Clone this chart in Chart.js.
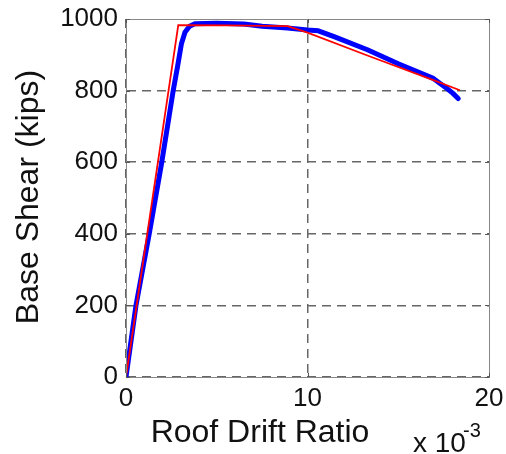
<!DOCTYPE html>
<html>
<head>
<meta charset="utf-8">
<script src="https://cdn.jsdelivr.net/npm/chart.js@4.4.1/dist/chart.umd.min.js"></script>
<style>
html,body{margin:0;padding:0;background:#fff;}
canvas{display:block;}
</style>
</head>
<body>
<canvas id="c" width="506" height="454"></canvas>
<script>
// Roof drift ratio (x 10^-3) and base shear (kips)
const redDrift  = [0, 2.88, 5.5, 8.9, 10.0, 13.3, 16.9, 18.4];
const redShear  = [0, 983, 982, 980, 962, 898, 830, 801];
const blueDrift = [0, 0.55, 1.28, 1.97, 2.6, 2.85, 3.05, 3.25, 3.5, 3.8, 5.0, 6.5, 7.5, 8.9, 10.0, 10.6, 11.5, 13.3, 15.0, 16.9, 17.7, 18.0, 18.3];
const blueShear = [0, 200, 400, 600, 800, 870, 930, 963, 980, 987, 988, 986, 980, 975, 969, 967, 950, 914, 875, 835, 805, 793, 778];
const xTicks = [0, 10, 20];
const yTicks = [0, 200, 400, 600, 800, 1000];
const xTitle = 'Roof Drift Ratio';
const yTitle = 'Base Shear (kips)';
const xMultiplier = 'x 10';
const xExponent = '-3';

const toPts = (xs, ys) => xs.map((x, i) => ({x: x, y: ys[i]}));
const FONT = '"Liberation Sans", Arial, sans-serif';

const noPad = s => { s.paddingTop = 0; s.paddingBottom = 0; s.paddingLeft = 0; s.paddingRight = 0; };
const gridColor = maxV => c => (c.tick && c.tick.value === maxV) ? 'rgba(0,0,0,0)' : '#666';

const decor = {
  id: 'decor',
  afterDraw(chart) {
    const ctx = chart.ctx;
    const a = chart.chartArea;
    const xs = chart.scales.x, ys = chart.scales.y;
    ctx.save();
    ctx.strokeStyle = '#888';
    ctx.lineWidth = 1;
    ctx.setLineDash([]);
    ctx.strokeRect(a.left + 0.5, a.top + 0.5, a.right - a.left, a.bottom - a.top);
    ctx.strokeStyle = '#555';
    ctx.beginPath();
    xTicks.forEach(v => {
      const p = Math.round(xs.getPixelForValue(v)) + 0.5;
      ctx.moveTo(p, a.bottom); ctx.lineTo(p, a.bottom - 4);
      ctx.moveTo(p, a.top); ctx.lineTo(p, a.top + 4);
    });
    yTicks.forEach(v => {
      const p = Math.round(ys.getPixelForValue(v)) + 0.5;
      ctx.moveTo(a.left, p); ctx.lineTo(a.left + 4, p);
      ctx.moveTo(a.right, p); ctx.lineTo(a.right - 4, p);
    });
    ctx.stroke();
    ctx.fillStyle = '#111';
    ctx.font = '32px ' + FONT;
    ctx.textAlign = 'center';
    ctx.textBaseline = 'alphabetic';
    ctx.fillText(xTitle, 260, 442);
    ctx.save();
    ctx.translate(38, 197);
    ctx.rotate(-Math.PI / 2);
    ctx.fillText(yTitle, 0, 0);
    ctx.restore();
    ctx.textAlign = 'left';
    ctx.font = '28px ' + FONT;
    ctx.fillText(xMultiplier, 413, 452);
    ctx.font = '20px ' + FONT;
    ctx.fillText(xExponent, 463, 437);
    ctx.restore();
  }
};

new Chart(document.getElementById('c'), {
  type: 'line',
  data: {
    datasets: [
      {
        label: 'red',
        data: toPts(redDrift, redShear),
        borderColor: '#ff0000',
        borderWidth: 1.8,
        pointRadius: 0,
        fill: false,
        tension: 0
      },
      {
        label: 'blue',
        data: toPts(blueDrift, blueShear),
        borderColor: '#0000ff',
        borderWidth: 5,
        borderCapStyle: 'round',
        borderJoinStyle: 'round',
        pointRadius: 0,
        fill: false,
        tension: 0
      }
    ]
  },
  options: {
    responsive: false,
    animation: false,
    parsing: false,
    layout: { padding: { top: 19, right: 17, left: 0, bottom: 0 } },
    plugins: { legend: { display: false }, tooltip: { enabled: false } },
    scales: {
      x: {
        type: 'linear',
        min: 0, max: 20,
        afterBuildTicks: s => { s.ticks = xTicks.map(v => ({value: v})); },
        afterFit: s => { s.height = 77; noPad(s); },
        ticks: { font: { family: FONT, size: 26 }, color: '#111', padding: 6, maxRotation: 0, callback: v => String(v) },
        grid: { color: gridColor(20), lineWidth: 1.5, drawTicks: false },
        border: { display: true, color: '#888', width: 1, dash: [9, 6] }
      },
      y: {
        type: 'linear',
        min: 0, max: 1000,
        afterBuildTicks: s => { s.ticks = yTicks.map(v => ({value: v})); },
        afterFit: s => { s.width = 126; noPad(s); },
        ticks: { font: { family: FONT, size: 26 }, color: '#111', padding: 8, callback: v => String(v) },
        grid: { color: gridColor(1000), lineWidth: 1.5, drawTicks: false },
        border: { display: true, color: '#888', width: 1, dash: [9, 6] }
      }
    }
  },
  plugins: [decor]
});
</script>
</body>
</html>
